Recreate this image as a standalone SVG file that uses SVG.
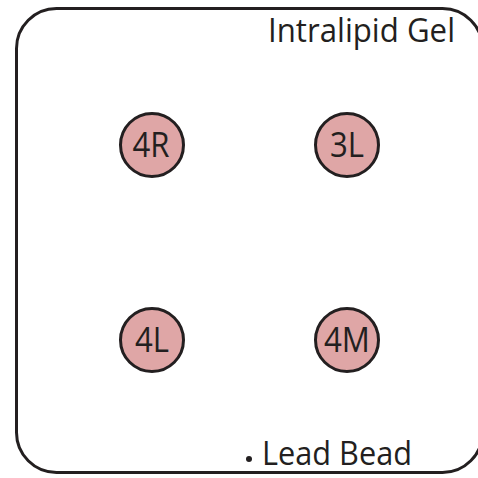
<svg xmlns="http://www.w3.org/2000/svg" width="478" height="478" viewBox="0 0 478 478">
<style>
.lbl{font-family:"Open Sans","Liberation Sans",sans-serif;font-size:32px;fill:#231f20}
.nl{font-family:"Open Sans","Liberation Sans",sans-serif;font-size:34px;fill:#231f20;text-anchor:middle}
.node{fill:#dfa6a6;stroke:#231f20;stroke-width:3}
</style>
<rect width="478" height="478" fill="#ffffff"/>
<g id="gel">
<rect x="16.5" y="8.5" width="466" height="464" rx="40" ry="40" fill="none" stroke="#231f20" stroke-width="3"/>
<text class="lbl" x="268" y="42" textLength="187" lengthAdjust="spacingAndGlyphs">Intralipid Gel</text>
</g>
<g id="n4R"><circle class="node" cx="152" cy="145" r="31.5"/><text class="nl" x="151" y="157" textLength="37" lengthAdjust="spacingAndGlyphs">4R</text></g>
<g id="n3L"><circle class="node" cx="347" cy="145" r="31.5"/><text class="nl" x="347" y="157" textLength="34" lengthAdjust="spacingAndGlyphs">3L</text></g>
<g id="n4L"><circle class="node" cx="152" cy="340" r="31.5"/><text class="nl" x="152" y="352" textLength="34" lengthAdjust="spacingAndGlyphs">4L</text></g>
<g id="n4M"><circle class="node" cx="347" cy="340" r="31.5"/><text class="nl" x="347" y="352" textLength="46" lengthAdjust="spacingAndGlyphs">4M</text></g>
<g id="lead">
<circle cx="249" cy="459" r="3" fill="#231f20"/>
<text class="lbl" x="262" y="465" textLength="150" lengthAdjust="spacingAndGlyphs">Lead Bead</text>
</g>
<g id="connectors"/>
</svg>
